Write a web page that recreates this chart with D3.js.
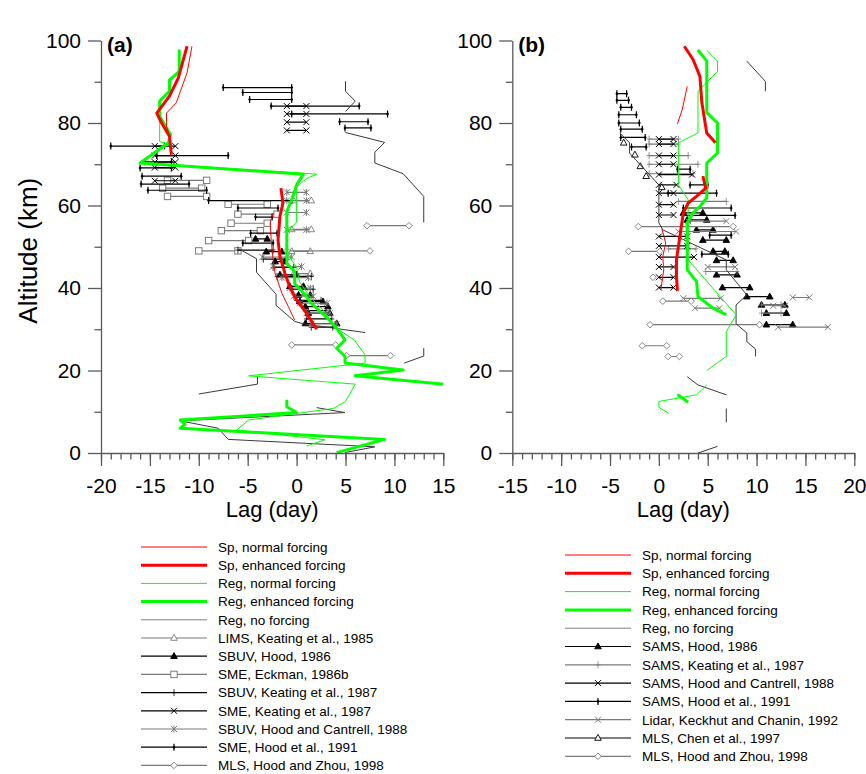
<!DOCTYPE html>
<html><head><meta charset="utf-8">
<script src="https://cdn.jsdelivr.net/npm/d3@7"></script>
<style>body{margin:0;background:#fff} svg{font-family:Arial,"Liberation Sans",sans-serif}</style>
</head><body><svg id="c" width="866" height="774"></svg>
<script>
// ---------- Panel (a) model profiles: [lag (day), altitude (km)], null = gap ----------
const spNormA = [[-10.7,98.6],[-11.2,92.2],[-12.3,84.9],[-13.3,82.4],[-13.3,79.2],[-12.9,76.0],[-13.0,74.5],null,
  [-2.4,58.2],[-2.7,55.8],[-2.6,51.6],[-2.4,46.8],[-2.2,43.6],[-1.5,38.7],[-0.85,35.5],[-0.2,32.2]];
const spEnhA = [[-11.2,98.6],[-12.1,90.9],[-13.0,86.5],[-14.3,82.4],[-13.8,80.0],[-13.0,76.8],[-12.8,72.3],null,
  [-1.6,64.2],[-1.4,60.6],[-1.7,57.4],[-1.9,51.6],[-1.7,47.6],[-1.2,43.6],[-0.7,40.3],[0.0,37.1],[1.0,33.9],[2.05,30.0]];
const regNormA = [[-12.0,97.5],[-12.0,92.5],[-13.0,90.4],[-13.0,87.7],[-14.0,85.3],[-14.0,75.5],[-13.1,74.8],[-16.0,70.3],
  [2.05,67.6],[1.0,66.5],[0.0,64.5],[0.0,56.0],[-1.0,53.5],[-1.0,48.5],[0.0,45.0],[0.3,41.5],[1.5,37.5],[3.0,34.0],
  [3.9,30.5],[5.9,27.4],[7.0,23.8],[7.0,21.8],[-4.9,18.7],[6.0,16.7],[5.0,12.5],[3.75,10.8],[-4.9,8.0],[-6.1,5.6],[2.9,3.2],[1.0,1.7]];
const regEnhA = [[-12.0,97.8],[-12.0,92.5],[-13.0,90.4],[-13.0,87.7],[-14.0,85.3],[-14.0,81.6],[-12.9,77.2],[-13.1,75.2],[-16.0,70.3],
  [0.7,67.6],[0.0,65.0],[-0.5,61.4],[-1.0,58.6],[-1.0,49.3],[-1.0,46.0],[-0.2,44.0],[-0.2,41.1],[0.9,38.3],[1.5,36.3],
  [3.2,32.6],[4.1,30.2],[4.95,27.4],[4.1,25.4],[4.95,23.4],[4.95,21.8],[10.9,20.1],[5.97,18.7],[15.5,16.6],null,
  [-1.0,12.9],[-1.0,11.2],[0.0,9.8],[-11.9,8.0],[-11.4,7.0],[-11.9,6.0],[9.0,3.3],[4.1,0.1]];
const noForceA = [[5.0,90.1],[5.0,87.7],[6.0,85.3],[5.0,82.8],null,[5.0,77.7],[9.0,75.3],[8.0,72.9],[8.0,70.3],[10.9,67.7],
  [13.0,62.2],[13.0,55.9],null,[-5.9,49.5],[-4.1,47.1],[-4.1,43.8],[-2.1,38.5],[-2.1,35.8],[-0.2,31.9],[0.7,31.3],[7.0,29.2],null,
  [13.0,25.4],[13.0,23.5],[11.0,21.8],null,[-4.0,18.4],[-4.0,16.7],[-10.0,14.3],null,
  [2.05,11.0],[4.95,9.8],[-11.9,7.8],[-8.0,6.0],[-7.0,3.3],[8.0,1.5],[4.95,0.1]];

// ---------- Panel (a) observations: [altitude, lag low, lag high] ----------
const limsA = [[61.2,-0.3,1.5],[54.2,-0.5,1.5],[48.9,-0.5,1.4],[43.5,-0.3,1.4]];
const sbuvHoodA = [[51.9,-4.2,-3.0],[48.8,-3.1,-1.5],[46.4,-2.2,-1.2],[43.2,-1.7,0.0],[40.4,-0.7,0.7],[38.3,0.2,1.4],
  [36.7,0.35,2.7],[35.5,0.9,3.2],[33.9,1.2,3.4],[31.4,0.9,4.1]];
const smeEckmanA = [[66.1,-13.2,-9.2],[64.2,-13.7,-9.7],[62.2,-13.2,-9.2],[60.3,-7.0,-3.0],[57.9,-6.0,-2.0],
  [55.7,-6.7,-3.0],[53.9,-7.7,-3.7],[51.5,-9.0,-4.9],[49.0,-10.0,-6.0]];
const sbuvKeatingA = [[49.2,-6.0,-2.4],[47.0,-3.4,-1.0],[45.0,-2.4,-0.3],[42.8,-2.0,1.5],[39.7,-0.5,1.7],
  [37.0,0.0,2.5],[34.5,1.0,3.0],[32.5,1.0,3.6],[30.5,1.5,3.7]];
const smeKeatingA = [[84.1,-1.0,1.0],[82.2,-1.0,1.0],[80.2,-1.0,1.0],[78.2,-1.0,1.0],[74.4,-14.5,-12.4],
  [72.1,-14.5,-12.4],[70.5,-14.5,-12.4],[69.2,-14.5,-12.4],[66.0,-14.5,-12.4]];
const sbuvHCA = [[63.2,-1.0,1.0],[61.2,-1.0,1.0],[58.3,-1.0,1.0],[54.1,-1.0,1.0],[47.5,-3.5,-0.5],[45.2,-2.4,0.5],
  [42.5,-1.5,1.2],[40.0,-0.7,1.4],[38.0,-0.3,1.7],[36.3,0.35,3.1],[33.9,1.0,3.4],[31.3,1.5,4.1]];
const smeHoodA = [[88.6,-7.5,-0.5],[87.4,-5.5,-0.5],[85.7,-4.8,-0.5],[84.1,-2.6,6.4],[82.2,-0.5,9.3],[80.3,4.4,7.3],
  [78.8,4.95,7.6],[74.4,-19.0,-13.5],[72.1,-14.3,-7.0],[70.6,-15.5,-12.8],[69.1,-16.0,-12.8],[67.1,-15.8,-11.8],
  [65.2,-15.9,-11.0],[63.7,-15.2,-9.2],[61.2,-9.0,-0.5],[59.4,-6.0,-1.9],[57.2,-4.2,-2.5],[53.3,-4.7,-2.0],[50.9,-5.5,-2.4]];
const mlsHZA = [[55.1,7.2,11.5],[49.0,-1.0,7.5],[26.2,-0.5,4.0],[23.6,5.1,9.6]];

// ---------- Panel (b) model profiles ----------
const spNormB = [[2.9,88.9],[2.4,83.3],[1.9,79.8],null,[0.3,54.4],[0.7,50.9],[0.4,47.6],[0.5,44.4],[0.2,39.6]];
const spEnhB = [[2.6,98.6],[3.5,95.4],[4.2,91.3],[4.4,84.9],[4.9,77.6],[5.8,75.2],null,[4.5,67.1],[4.8,64.2],
  [3.85,62.2],[3.0,60.6],[2.5,58.2],[2.15,52.5],[1.8,46.8],[1.8,42.8],[1.9,39.3]];
const regNormB = [[4.9,97.6],[6.0,95.0],[6.0,92.5],[4.0,87.7],[4.0,77.6],[2.0,75.2],[2.0,65.0],[3.0,61.4],[3.0,46.8],
  [7.9,33.5],[6.9,29.4],[6.9,23.4],[4.9,20.0],null,[4.9,16.5],[3.85,14.1],[0.0,12.5],[0.0,11.1],[1.0,9.6]];
const regEnhB = [[4.0,97.7],[4.9,95.0],[4.9,82.5],[6.0,80.0],[6.0,72.7],[4.9,70.3],[4.9,61.8],[4.2,59.8],[3.5,58.2],
  [2.9,55.8],[2.9,44.4],[3.85,41.6],[4.0,37.9],[5.55,35.1],[6.9,33.5],null,[1.9,14.2],[3.0,12.3]];
const noForceB = [[9.0,95.0],[10.9,90.1],[10.9,87.7],null,[-4.0,77.6],[-3.0,75.2],[-3.0,72.7],[0.0,65.0],[0.0,55.8],
  [0.4,54.1],[6.9,46.8],[6.9,44.4],[9.0,38.3],[7.9,35.9],[7.9,31.3],[9.0,29.1],[9.0,27.0],[9.9,25.2],[9.9,23.4],null,
  [2.9,18.5],[4.0,16.5],[6.9,14.1],null,[6.9,10.8],[6.9,7.4],null,[4.0,0.0],[6.0,1.6]];

// ---------- Panel (b) observations ----------
const samsHoodB = [[58.2,2.5,4.5],[56.5,2.9,4.9],[54.1,3.85,5.55],[51.6,4.5,6.9],[48.9,5.55,6.75],[46.7,5.9,7.6],
  [43.2,5.9,8.0],[40.1,6.5,9.3],[37.9,9.0,11.35],[35.9,10.5,12.9],[33.9,11.0,13.05],[31.1,11.0,13.7]];
const samsKeatingB = [[76.1,-1.0,2.0],[74.9,-1.0,2.0],[72.1,-1.0,3.0],[70.0,-1.0,4.0],[67.7,-1.0,3.5],[61.0,2.0,6.9],
  [49.5,1.0,3.8],[44.0,4.8,8.0],[35.9,10.5,12.5],[33.9,10.5,12.5]];
const samsHCB = [[76.1,0.0,1.5],[74.9,0.0,1.5],[72.1,0.0,1.5],[70.0,0.0,1.5],[67.5,0.0,3.4],[65.0,0.0,1.8],
  [63.0,0.0,1.5],[60.2,0.0,1.5],[57.7,0.0,1.5],[52.5,0.0,2.9],[50.2,0.0,2.9],[47.5,0.0,3.6],[45.1,0.0,1.5],
  [42.6,0.0,1.5],[40.1,0.0,1.5]];
const samsHood91B = [[87.1,-4.3,-3.3],[85.5,-4.3,-3.1],[83.8,-3.9,-2.8],[82.0,-4.1,-2.3],[80.0,-4.1,-2.0],
  [78.5,-3.9,-1.7],[76.5,-3.9,-1.4],[74.2,-2.8,-1.3],[68.8,1.9,3.2],[65.0,3.2,5.0],[63.0,0.95,5.9],[59.4,2.5,7.4],
  [57.6,2.5,7.8],[52.8,5.2,7.4],[48.2,4.4,7.1]];
const lidarB = [[56.2,3.0,6.9],[53.7,2.0,7.9],[45.1,5.0,7.8],[37.5,2.5,6.3],[35.1,3.7,6.2],[37.7,13.7,15.4],
  [35.7,11.7,12.9],[30.5,12.2,17.3]];
const mlsChenB = [[75.2,-3.6,-3.6],[72.3,-2.45,-2.45],[69.5,-1.9,-1.9],[67.1,-1.3,-1.3],[64.4,0.3,0.3]];
const mlsHZB = [[54.9,-2.1,7.6],[48.9,-3.1,0.1],[42.6,-0.6,-0.6],[36.8,0.4,3.3],[31.1,-0.9,10.3],[26.0,-1.7,0.8],[23.4,0.95,2.1]];

// ---------- tick values ----------
const xMajorA = [-20,-15,-10,-5,0,5,10,15];
const xMajorB = [-15,-10,-5,0,5,10,15,20];
const yMajor = [0,20,40,60,80,100];

// ---------- styles ----------
const GRAY = '#7a7a7a', BLACK = '#000', NOF = '#3a3a3a';
const modelStyles = {
  spNorm:{color:'#ff0000', w:1, label:'Sp, normal forcing'},
  spEnh:{color:'#ff0000', w:3, label:'Sp, enhanced forcing'},
  regNorm:{color:'#00ff00', w:1, label:'Reg, normal forcing'},
  regEnh:{color:'#00ff00', w:3, label:'Reg, enhanced forcing'},
  noForce:{color:NOF, w:1, label:'Reg, no forcing', legendColor:'#808080'}
};

const panels = [
  {title:'(a)', xDomain:[-20,15], xRange:[101,443.3], xMajor:xMajorA,
   models:[['noForce',noForceA],['regNorm',regNormA],['regEnh',regEnhA],['spNorm',spNormA],['spEnh',spEnhA]],
   obs:[
     {label:'LIMS, Keating et al., 1985', color:GRAY, m:'tri', data:limsA},
     {label:'SBUV, Hood, 1986', color:BLACK, m:'triF', data:sbuvHoodA},
     {label:'SME, Eckman, 1986b', color:GRAY, m:'sq', data:smeEckmanA},
     {label:'SBUV, Keating et al., 1987', color:BLACK, m:'plus', data:sbuvKeatingA},
     {label:'SME, Keating et al., 1987', color:BLACK, m:'x', data:smeKeatingA},
     {label:'SBUV, Hood and Cantrell, 1988', color:GRAY, m:'xbar', data:sbuvHCA},
     {label:'SME, Hood et al., 1991', color:BLACK, m:'bar', data:smeHoodA},
     {label:'MLS, Hood and Zhou, 1998', color:GRAY, m:'dia', data:mlsHZA}],
   legend:{x:141, y:547, dy:18.2}, yLabel:true},
  {title:'(b)', xDomain:[-15,20], xRange:[512.3,854.3], xMajor:xMajorB,
   models:[['noForce',noForceB],['regNorm',regNormB],['regEnh',regEnhB],['spNorm',spNormB],['spEnh',spEnhB]],
   obs:[
     {label:'SAMS, Hood, 1986', color:BLACK, m:'triF', data:samsHoodB},
     {label:'SAMS, Keating et al., 1987', color:GRAY, m:'plus', data:samsKeatingB},
     {label:'SAMS, Hood and Cantrell, 1988', color:BLACK, m:'x', data:samsHCB},
     {label:'SAMS, Hood et al., 1991', color:BLACK, m:'bar', data:samsHood91B},
     {label:'Lidar, Keckhut and Chanin, 1992', color:GRAY, m:'x', data:lidarB},
     {label:'MLS, Chen et al., 1997', color:BLACK, m:'tri', data:mlsChenB},
     {label:'MLS, Hood and Zhou, 1998', color:GRAY, m:'dia', data:mlsHZB}],
   legend:{x:565, y:555, dy:18.3}, yLabel:false}
];

const svg = d3.select('#c');
const yScale = d3.scaleLinear().domain([0,100]).range([453,40.5]);
const AX = '#5a5a5a';

function marker(g, type, x, y, color){
  const s = 3;
  if(type==='tri' || type==='triF'){
    g.append('path').attr('d',`M${x},${y-3.6}L${x+3.3},${y+2.3}L${x-3.3},${y+2.3}Z`)
      .attr('fill', type==='triF'? color : '#fff').attr('stroke',color).attr('stroke-width',0.9);
  } else if(type==='sq'){
    g.append('rect').attr('x',x-3.2).attr('y',y-3.2).attr('width',6.4).attr('height',6.4)
      .attr('fill','#fff').attr('stroke',color).attr('stroke-width',1);
  } else if(type==='plus'){
    g.append('path').attr('d',`M${x-2.5},${y}H${x+2.5}M${x},${y-3.5}V${y+3.5}`).attr('stroke',color).attr('stroke-width',0.8);
  } else if(type==='x' || type==='xbar'){
    g.append('path').attr('d',`M${x-s},${y-s}L${x+s},${y+s}M${x-s},${y+s}L${x+s},${y-s}`+(type==='xbar'?`M${x},${y-3.5}V${y+3.5}`:''))
      .attr('stroke',color).attr('stroke-width',1);
  } else if(type==='bar'){
    g.append('path').attr('d',`M${x},${y-3.5}V${y+3.5}`).attr('stroke',color).attr('stroke-width',1.2);
    g.append('path').attr('d',`M${x},${y-2}L${x+1.5},${y}L${x},${y+2}L${x-1.5},${y}Z`).attr('fill',color);
  } else if(type==='dia'){
    g.append('path').attr('d',`M${x},${y-3.3}L${x+3.3},${y}L${x},${y+3.3}L${x-3.3},${y}Z`)
      .attr('fill','#fff').attr('stroke',color).attr('stroke-width',0.9);
  }
}

panels.forEach((p, i) => {
  const x = d3.scaleLinear().domain(p.xDomain).range(p.xRange);
  const g = svg.append('g');
  const clipId = 'clip'+i;
  svg.append('defs').append('clipPath').attr('id',clipId).append('rect')
    .attr('x',p.xRange[0]).attr('y',yScale(100)).attr('width',p.xRange[1]-p.xRange[0]).attr('height',yScale(0)-yScale(100));

  const plot = g.append('g').attr('clip-path',`url(#${clipId})`);

  // observations
  p.obs.forEach(o => {
    const og = plot.append('g');
    o.data.forEach(r => {
      if(r[1]!==r[2]) og.append('line').attr('x1',x(r[1])).attr('x2',x(r[2])).attr('y1',yScale(r[0])).attr('y2',yScale(r[0]))
        .attr('stroke',o.color).attr('stroke-width',1.2);
    });
    o.data.forEach(r => { marker(og,o.m,x(r[1]),yScale(r[0]),o.color); if(r[1]!==r[2]) marker(og,o.m,x(r[2]),yScale(r[0]),o.color); });
  });

  // model profiles
  const line = d3.line().defined(d => d!==null).x(d => x(d[0])).y(d => yScale(d[1]));
  p.models.forEach(([k, data]) => {
    const st = modelStyles[k];
    plot.append('path').attr('d',line(data)).attr('fill','none').attr('stroke',st.color)
      .attr('stroke-width',st.w).attr('stroke-linejoin','round');
  });

  // axes
  const xMinor = d3.range(p.xDomain[0], p.xDomain[1]+0.5, 1);
  const xa = g.append('g').attr('transform',`translate(0,${yScale(0)})`)
    .call(d3.axisBottom(x).tickValues(p.xMajor).tickSize(13).tickSizeOuter(0).tickPadding(12).tickFormat(d => String(d)));
  const xm = g.append('g').attr('transform',`translate(0,${yScale(0)})`)
    .call(d3.axisBottom(x).tickValues(xMinor).tickSize(6.5).tickSizeOuter(0).tickFormat(''));
  xm.select('.domain').remove();
  const ya = g.append('g').attr('transform',`translate(${p.xRange[0]},0)`)
    .call(d3.axisLeft(yScale).tickValues(yMajor).tickSize(13).tickSizeOuter(0).tickPadding(7).tickFormat(d => String(d)));
  const ym = g.append('g').attr('transform',`translate(${p.xRange[0]},0)`)
    .call(d3.axisLeft(yScale).tickValues([10,30,50,70,90]).tickSize(6.5).tickSizeOuter(0).tickFormat(''));
  ym.select('.domain').remove();
  [xa,xm,ya,ym].forEach(a => {
    a.selectAll('.domain').attr('stroke',AX).attr('stroke-width',1.3);
    a.selectAll('.tick line').attr('stroke',AX).attr('stroke-width',1.3);
    a.selectAll('text').attr('font-size',21).attr('font-family','Arial, "Liberation Sans", sans-serif').attr('fill','#000');
  });

  // titles & axis labels
  g.append('text').attr('x',p.xRange[0]+6).attr('y',52).attr('font-size',21).attr('font-weight','bold').text(p.title);
  g.append('text').attr('x',(p.xRange[0]+p.xRange[1])/2).attr('y',517).attr('text-anchor','middle')
    .attr('font-size',22).text('Lag (day)');
  if(p.yLabel){
    g.append('text').attr('transform',`translate(37,${(yScale(0)+yScale(100))/2 + 4}) rotate(-90)`)
      .attr('text-anchor','middle').attr('font-size',26).text('Altitude (km)');
  }

  // legend
  const order = ['spNorm','spEnh','regNorm','regEnh','noForce'];
  const entries = order.map(k => ({label:modelStyles[k].label, color:modelStyles[k].legendColor||modelStyles[k].color, w:modelStyles[k].w, m:null}))
    .concat(p.obs.map(o => ({label:o.label, color:o.color, w:1.2, m:o.m})));
  const lg = g.append('g');
  entries.forEach((e, j) => {
    const yy = p.legend.y + j*p.legend.dy;
    const x1 = p.legend.x, x2 = p.legend.x + 66;
    lg.append('line').attr('x1',x1).attr('x2',x2).attr('y1',yy).attr('y2',yy).attr('stroke',e.color).attr('stroke-width',e.w);
    if(e.m) marker(lg, e.m, (x1+x2)/2, yy, e.color);
    lg.append('text').attr('x',x2+11).attr('y',yy+4.8).attr('font-size',13.5).attr('fill','#000').text(e.label);
  });
});
</script></body></html>
